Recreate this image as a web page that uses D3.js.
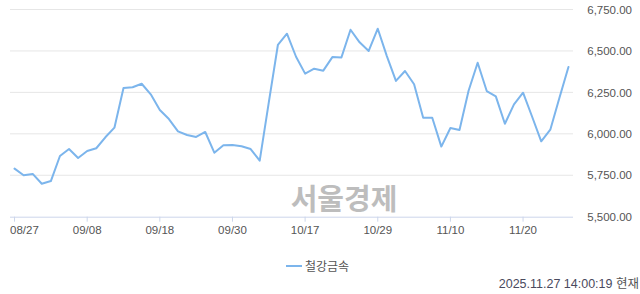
<!DOCTYPE html>
<html>
<head>
<meta charset="utf-8">
<script src="https://cdn.jsdelivr.net/npm/d3@7"></script>
<style>
    body { margin: 0; background: #fff; }
    svg { display: block; font-family: "Liberation Sans", Arial, sans-serif; }
</style>
</head>
<body>
<svg id="chart" width="640" height="294"></svg>
<script>
// 거래일 (2025.08.27 ~ 11.27)
const dates = [
    "08/27", "08/28", "08/29", "09/01", "09/02", "09/03", "09/04", "09/05",
    "09/08", "09/09", "09/10", "09/11", "09/12", "09/15", "09/16", "09/17",
    "09/18", "09/19", "09/22", "09/23", "09/24", "09/25", "09/26", "09/29",
    "09/30", "10/01", "10/02", "10/10", "10/13", "10/14", "10/15", "10/16",
    "10/17", "10/20", "10/21", "10/22", "10/23", "10/24", "10/27", "10/28",
    "10/29", "10/30", "10/31", "11/03", "11/04", "11/05", "11/06", "11/07",
    "11/10", "11/11", "11/12", "11/13", "11/14", "11/17", "11/18", "11/19",
    "11/20", "11/21", "11/24", "11/25", "11/26", "11/27"
];

// 철강금속 지수
const values = [
    5790, 5750, 5758, 5699, 5715, 5866, 5908, 5854,
    5896, 5913, 5979, 6037, 6276, 6281, 6302, 6238,
    6144, 6089, 6015, 5993, 5981, 6011, 5886, 5931,
    5933, 5925, 5908, 5838, 6190, 6536, 6604, 6465,
    6363, 6393, 6381, 6463, 6461, 6628, 6552, 6500,
    6634, 6469, 6319, 6379, 6299, 6097, 6097, 5923,
    6035, 6023, 6260, 6429, 6258, 6226, 6061, 6178,
    6248, 6103, 5955, 6025, 6216, 6403
];

const xTicks = ["08/27", "09/08", "09/18", "09/30", "10/17", "10/29", "11/10", "11/20"];
const yTicks = [5500, 5750, 6000, 6250, 6500, 6750];

const seriesName = "철강금속";
const stamp = "2025.11.27 14:00:19";

let svg = d3.select("#chart");

let plotLeft = 10, plotRight = 573, plotTop = 9.5, plotBottom = 216.7;

let x = d3.scaleBand().domain(dates).range([plotLeft, plotRight]);
let y = d3.scaleLinear().domain([5500, 6750]).range([plotBottom, plotTop]);
let cx = d => x(d) + x.bandwidth() / 2;

// 그리드
svg.append("g")
    .selectAll("line")
    .data(yTicks.slice(1))
    .enter()
    .append("line")
    .attr("x1", plotLeft)
    .attr("x2", plotRight)
    .attr("y1", d => y(d))
    .attr("y2", d => y(d))
    .attr("stroke", "#e6e6e6")
    .attr("stroke-width", 1);

// y축 라벨 (오른쪽)
let yAxis = svg.append("g")
    .attr("transform", `translate(632,0)`)
    .call(d3.axisRight(y).tickValues(yTicks).tickSize(0).tickPadding(0)
        .tickFormat(d3.format(",.2f")));
yAxis.select(".domain").remove();
yAxis.selectAll("text")
    .attr("text-anchor", "end")
    .attr("fill", "#555")
    .style("font-size", "11.5px");

// 워터마크
svg.append("text")
    .attr("x", 344)
    .attr("y", 210)
    .attr("text-anchor", "middle")
    .attr("fill", "#bdbdbd")
    .style("font-family", "'Noto Sans CJK KR', sans-serif")
    .style("font-weight", "bold")
    .style("font-size", "29px")
    .text("서울경제");

// x축
let xAxis = svg.append("g")
    .attr("transform", `translate(0,${plotBottom})`)
    .call(d3.axisBottom(x).tickValues(xTicks).tickSizeOuter(0).tickSize(5).tickPadding(4)
        .offset(0));
xAxis.select(".domain")
    .attr("d", `M${plotLeft},0.5H${plotRight}`)
    .attr("stroke", "#ccd6eb");
xAxis.selectAll(".tick line").attr("stroke", "#ccd6eb");
xAxis.selectAll("text")
    .attr("fill", "#555")
    .style("font-size", "11.5px");

// 첫 라벨은 왼쪽 끝에 맞춤
xAxis.selectAll(".tick text")
    .filter(d => d === xTicks[0])
    .attr("text-anchor", "start")
    .attr("x", plotLeft - cx(xTicks[0]));

// 라인
let line = d3.line()
    .x((d, i) => cx(dates[i]))
    .y(d => y(d));

svg.append("path")
    .datum(values)
    .attr("d", line)
    .attr("fill", "none")
    .attr("stroke", "#7cb5ec")
    .attr("stroke-width", 2)
    .attr("stroke-linejoin", "round")
    .attr("stroke-linecap", "round");

// 범례
let legend = svg.append("g").attr("transform", "translate(286,266)");
legend.append("line")
    .attr("x1", 0).attr("x2", 16)
    .attr("stroke", "#7cb5ec")
    .attr("stroke-width", 2);
legend.append("text")
    .attr("x", 19)
    .attr("y", 4.5)
    .attr("fill", "#555")
    .style("font-family", "'Noto Sans CJK KR', sans-serif")
    .style("font-size", "12px")
    .text(seriesName);

// 기준 시각
let st = svg.append("text")
    .attr("x", 639)
    .attr("y", 288)
    .attr("text-anchor", "end")
    .style("font-size", "12.5px");
st.append("tspan").attr("fill", "#4a4a5e").text(stamp + " ");
st.append("tspan").attr("fill", "#555")
    .style("font-family", "'Noto Sans CJK KR', sans-serif")
    .text("현재");
</script>
</body>
</html>
